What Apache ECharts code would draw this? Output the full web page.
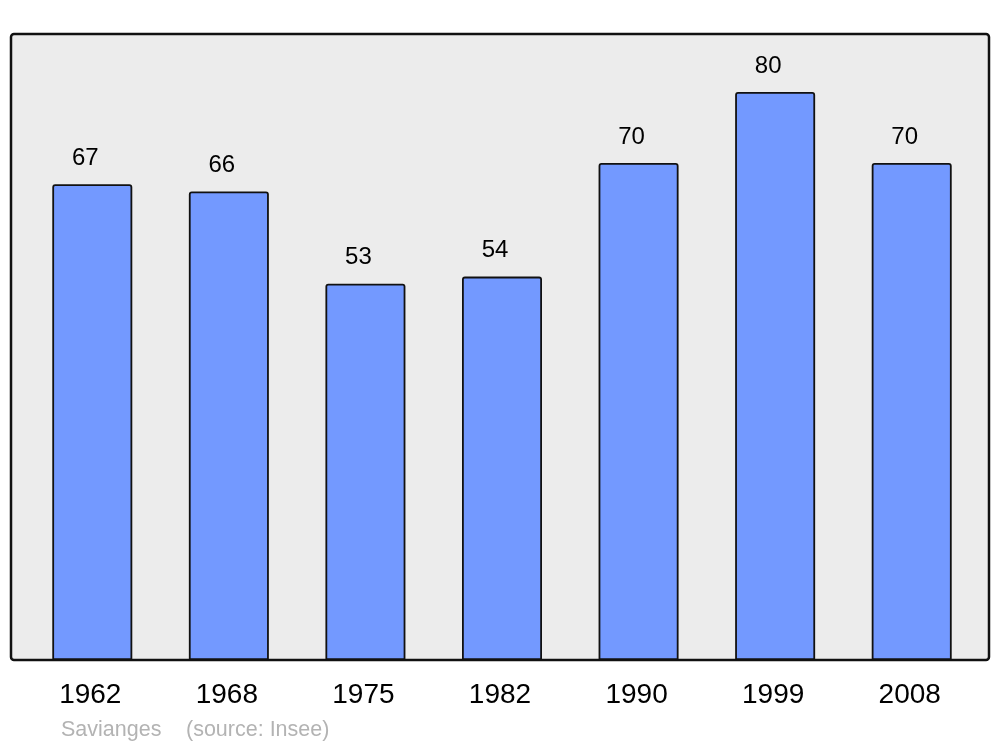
<!DOCTYPE html>
<html><head><meta charset="utf-8">
<script src="https://cdn.jsdelivr.net/npm/echarts@6/dist/echarts.min.js"></script>
<style>html,body{margin:0;padding:0;background:#fff}#c{width:1000px;height:747px}</style>
</head><body><div id="c"></div>
<script>
const years = ['1962','1968','1975','1982','1990','1999','2008'];
const population = [67, 66, 53, 54, 70, 80, 70];
const footerName = 'Savianges';
const footerSource = '(source: Insee)';

const chart = echarts.init(document.getElementById('c'), null, {renderer: 'canvas'});
const font = '"Liberation Sans", Arial, sans-serif';
chart.setOption({
  animation: false,
  grid: {left: 24, right: 20, top: 34, bottom: 87},
  xAxis: {
    type: 'category', data: years,
    axisLine: {show: false}, axisTick: {show: false},
    axisLabel: {color: '#000', fontSize: 28, fontFamily: font, margin: 21, padding: [0, 4, 0, 0]}
  },
  yAxis: {
    type: 'value', min: 0, max: 88.17, show: false, splitLine: {show: false}
  },
  graphic: [
    {type: 'rect', z: -10, shape: {x: 11, y: 34, width: 978, height: 626, r: 3},
     style: {fill: '#ececec', stroke: '#111', lineWidth: 2.5}},
    {type: 'text', left: 61, top: 719, style: {text: footerName, fill: '#b3b3b3', font: '21.5px ' + font}},
    {type: 'text', left: 186, top: 719, style: {text: footerSource, fill: '#b3b3b3', font: '21.5px ' + font}}
  ],
  series: [{
    type: 'bar', data: population, barWidth: 80,
    itemStyle: {color: '#7399ff', borderColor: '#111', borderWidth: 1.8, borderRadius: [2, 2, 0, 0]},
    label: {show: true, position: 'top', distance: 14, offset: [-7, 0], color: '#000', fontSize: 24, fontFamily: font}
  }]
});
</script></body></html>
